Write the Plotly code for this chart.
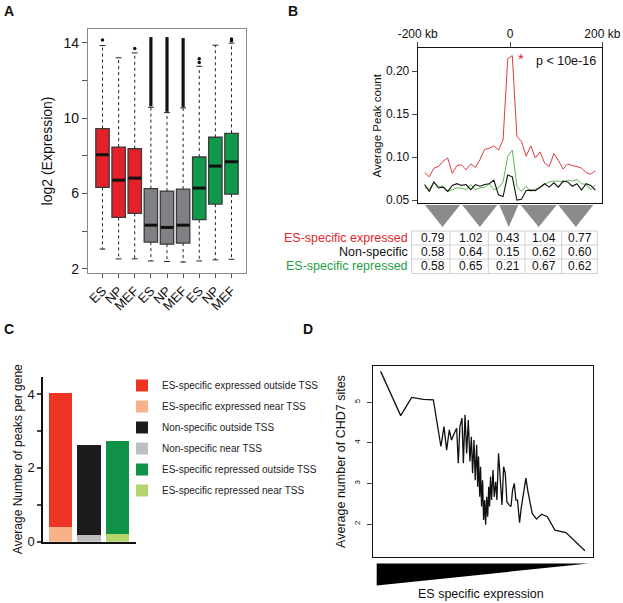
import plotly.graph_objects as go

W, H = 623, 603
FONT = "Liberation Sans, Arial, sans-serif"


def px(x):
    return x / W


def py(y):
    return 1 - y / H


# ---------------- Panel A: boxplots ----------------
a_pos = [1, 2, 3, 4, 5, 6, 7, 8, 9]
a_labels = ["ES", "NP", "MEF", "ES", "NP", "MEF", "ES", "NP", "MEF"]
a_q1 = [6.32, 4.72, 4.94, 3.41, 3.30, 3.36, 4.60, 5.43, 5.96]
a_med = [8.05, 6.70, 6.81, 4.31, 4.19, 4.31, 6.28, 7.45, 7.68]
a_q3 = [9.44, 8.46, 8.37, 6.25, 6.12, 6.23, 7.93, 8.98, 9.19]
a_lo = [3.04, 2.52, 2.52, 2.41, 2.38, 2.35, 2.41, 2.47, 2.50]
a_hi = [13.85, 13.20, 13.46, 10.57, 10.29, 10.54, 12.75, 13.87, 13.98]
a_group = ["exp", "exp", "exp", "non", "non", "non", "rep", "rep", "rep"]
a_out_x = [1, 3, 7, 7, 9, 9]
a_out_y = [14.15, 13.70, 12.95, 13.15, 14.10, 14.20]
a_dense_x = [4, 5, 6]
a_dense_lo = [10.62, 10.33, 10.58]
a_dense_hi = [14.30, 14.30, 14.25]
a_yticks = [2, 4, 6, 8, 10, 12, 14]
a_yticktext = ["2", "", "6", "", "10", "", "14"]

# ---------------- Panel B: peak profile ----------------
b_kb = [-185, -175, -165, -155, -145, -135, -125, -115, -105, -95, -85, -75, -65,
        -55, -45, -35, -25, -15, -5, 5, 15, 25, 35, 45, 55, 65, 75, 85, 95, 105,
        115, 125, 135, 145, 155, 165, 175, 185]
b_expressed = [0.082, 0.077, 0.087, 0.089, 0.095, 0.099, 0.081, 0.090, 0.091, 0.085,
               0.092, 0.088, 0.097, 0.109, 0.110, 0.113, 0.108, 0.120, 0.214, 0.218,
               0.124, 0.118, 0.101, 0.113, 0.099, 0.106, 0.093, 0.089, 0.104, 0.096,
               0.086, 0.092, 0.090, 0.089, 0.087, 0.082, 0.080, 0.084]
b_nonspecific = [0.068, 0.060, 0.071, 0.064, 0.065, 0.060, 0.067, 0.069, 0.067, 0.068,
                 0.062, 0.068, 0.066, 0.068, 0.069, 0.073, 0.056, 0.054, 0.079, 0.077,
                 0.050, 0.051, 0.061, 0.0615, 0.061, 0.065, 0.069, 0.065, 0.070, 0.065,
                 0.072, 0.071, 0.066, 0.069, 0.0615, 0.069, 0.067, 0.0615]
b_repressed = [0.065, 0.062, 0.071, 0.066, 0.066, 0.060, 0.062, 0.064, 0.064, 0.062,
               0.068, 0.062, 0.064, 0.065, 0.069, 0.062, 0.064, 0.071, 0.101, 0.108,
               0.066, 0.060, 0.066, 0.060, 0.063, 0.064, 0.068, 0.071, 0.072, 0.072,
               0.071, 0.073, 0.072, 0.074, 0.069, 0.068, 0.062, 0.068]
b_xticks = [-200, 0, 200]
b_xticktext = ["-200 kb", "0", "200 kb"]
b_yticks = [0.05, 0.10, 0.15, 0.20]
b_yticktext = ["0.05", "0.10", "0.15", "0.20"]
b_row_labels = ["ES-specific expressed", "Non-specific", "ES-specific repressed"]
b_table = [
    ["0.79", "1.02", "0.43", "1.04", "0.77"],
    ["0.58", "0.64", "0.15", "0.62", "0.60"],
    ["0.58", "0.65", "0.21", "0.67", "0.62"],
]
b_pval = "p < 10e-16"

# ---------------- Panel C: stacked bars ----------------
c_pos = [1, 2, 3]
c_near = [0.40, 0.175, 0.20]
c_outside = [3.62, 2.455, 2.52]
c_names_out = ["ES-specific expressed outside TSS", "Non-specific outside TSS",
               "ES-specific repressed outside TSS"]
c_names_near = ["ES-specific expressed near TSS", "Non-specific near TSS",
                "ES-specific repressed near TSS"]
c_yticks = [0, 1, 2, 3, 4]
c_yticktext = ["0", "", "2", "", "4"]

# ---------------- Panel D: CHD7 sites vs ES specific expression ----------------
d_rank = [0.0, 9.8, 15.2, 20.9, 25.8, 29.5, 31.0, 32.3, 33.6, 34.7, 36.1, 37.2, 38.0,
          38.8, 39.8, 40.5, 41.3, 42.1, 42.9, 43.7, 44.4, 45.0, 45.7, 46.3, 47.0,
          47.5, 47.9, 48.5, 48.9, 49.4, 49.9, 50.4, 50.9, 51.4, 51.9, 52.4, 52.9,
          53.3, 53.8, 54.3, 55.0, 55.6, 56.3, 56.9, 57.7, 58.6, 59.4, 60.2, 61.0,
          61.8, 62.8, 63.8, 64.6, 65.4, 66.2, 67.0, 68.0, 68.8, 69.9, 71.1, 72.1,
          73.1, 74.2, 76.3, 78.8, 81.6, 85.3, 90.7, 100.0]
d_sites = [5.76, 4.67, 5.12, 5.07, 5.06, 3.91, 4.40, 3.82, 4.32, 4.07, 4.24, 4.36, 3.50,
           4.40, 4.61, 3.50, 4.69, 3.74, 4.56, 3.54, 4.15, 3.25, 4.07, 3.08, 3.95,
           2.92, 3.66, 2.67, 3.41, 2.43, 3.08, 2.10, 2.59, 1.98, 2.67, 2.18, 2.92,
           2.43, 3.17, 2.59, 3.33, 2.67, 3.04, 2.59, 3.74, 2.92, 2.47, 3.41, 3.25,
           2.55, 2.47, 2.43, 2.84, 3.00, 2.59, 2.59, 2.03, 2.39, 2.76, 3.13, 2.80,
           2.51, 2.26, 2.12, 2.24, 2.18, 1.85, 1.79, 1.34]
d_yticks = [2, 3, 4, 5]

# ---------------- colours ----------------
RED = "#E5202A"
GREY = "#808184"
GREEN = "#0E9A4A"
box_fill = {"exp": RED, "non": GREY, "rep": GREEN}

fig = go.Figure()

# Panel A whiskers (dashed) and caps
BOXW = 0.83
CAPW = 0.36
wx, wy, cx, cy = [], [], [], []
for p, q1, q3, lo, hi in zip(a_pos, a_q1, a_q3, a_lo, a_hi):
    wx += [p, p, None, p, p, None]
    wy += [q3, hi, None, q1, lo, None]
    cx += [p - CAPW / 2, p + CAPW / 2, None, p - CAPW / 2, p + CAPW / 2, None]
    cy += [hi, hi, None, lo, lo, None]
fig.add_trace(go.Scatter(x=wx, y=wy, mode="lines", line=dict(color="#222", width=1, dash="3px,3px"),
                         xaxis="x", yaxis="y", showlegend=False, hoverinfo="skip"))
fig.add_trace(go.Scatter(x=cx, y=cy, mode="lines", line=dict(color="#222", width=1),
                         xaxis="x", yaxis="y", showlegend=False, hoverinfo="skip"))
# dense outliers in the non-specific group
dx, dy = [], []
for p, lo, hi in zip(a_dense_x, a_dense_lo, a_dense_hi):
    dx += [p, p, None]
    dy += [lo, hi, None]
fig.add_trace(go.Scatter(x=dx, y=dy, mode="lines", line=dict(color="#111", width=3.2),
                         xaxis="x", yaxis="y", showlegend=False, hoverinfo="skip"))
fig.add_trace(go.Scatter(x=a_out_x, y=a_out_y, mode="markers",
                         marker=dict(color="#111", size=3.5),
                         xaxis="x", yaxis="y", showlegend=False, hoverinfo="skip"))
# boxes
for p, q1, m, q3, g in zip(a_pos, a_q1, a_med, a_q3, a_group):
    fig.add_trace(go.Box(x=[p], q1=[q1], median=[m], q3=[q3], lowerfence=[q1], upperfence=[q3],
                         width=BOXW, fillcolor=box_fill[g], line=dict(color="#3a3a3a", width=1.3),
                         xaxis="x", yaxis="y", showlegend=False, hoverinfo="skip"))
# thick medians
mx, my = [], []
for p, m in zip(a_pos, a_med):
    mx += [p - BOXW / 2 + 0.02, p + BOXW / 2 - 0.02, None]
    my += [m, m, None]
fig.add_trace(go.Scatter(x=mx, y=my, mode="lines", line=dict(color="#111", width=3),
                         xaxis="x", yaxis="y", showlegend=False, hoverinfo="skip"))

# Panel B lines
fig.add_trace(go.Scatter(x=b_kb, y=b_expressed, mode="lines", line=dict(color="#DD3B3F", width=1),
                         xaxis="x2", yaxis="y2", showlegend=False, hoverinfo="skip"))
fig.add_trace(go.Scatter(x=b_kb, y=b_repressed, mode="lines", line=dict(color="#62B550", width=1),
                         xaxis="x2", yaxis="y2", showlegend=False, hoverinfo="skip"))
fig.add_trace(go.Scatter(x=b_kb, y=b_nonspecific, mode="lines", line=dict(color="#111", width=1.1),
                         xaxis="x2", yaxis="y2", showlegend=False, hoverinfo="skip"))

# Panel C stacked bars
near_cols = ["#F8B28A", "#BCBEC0", "#B4D56B"]
out_cols = ["#EE3524", "#1E1B1C", "#0D9247"]
for i, p in enumerate(c_pos):
    fig.add_trace(go.Bar(x=[p], y=[c_near[i]], name=c_names_near[i], marker_color=near_cols[i],
                         marker_line_width=0, width=0.82, xaxis="x3", yaxis="y3",
                         legendgroup="n%d" % i, legendrank=2 * i + 2, hoverinfo="skip"))
    fig.add_trace(go.Bar(x=[p], y=[c_outside[i]], name=c_names_out[i], marker_color=out_cols[i],
                         marker_line_width=0, width=0.82, xaxis="x3", yaxis="y3",
                         legendgroup="o%d" % i, legendrank=2 * i + 1, hoverinfo="skip"))

# Panel D line
fig.add_trace(go.Scatter(x=d_rank, y=d_sites, mode="lines", line=dict(color="#111", width=1.3),
                         xaxis="x4", yaxis="y4", showlegend=False, hoverinfo="skip"))

# ---------------- shapes ----------------
shapes = []
# Panel B triangles
tri_spans = [(425.0, 460.0), (462.3, 497.3), (499.3, 518.3), (520.7, 556.7), (558.3, 593.3)]
for l, r in tri_spans:
    m = (l + r) / 2
    path = "M %f %f L %f %f L %f %f Z" % (px(l), py(205), px(r), py(205), px(m), py(227))
    shapes.append(dict(type="path", xref="paper", yref="paper", path=path,
                       fillcolor="#8B8B8E", line=dict(width=0), layer="above"))
# Panel B table grid
col_edges = [411.7, 450.0, 488.3, 525.0, 561.7, 597.3]
row_edges = [231.0, 245.0, 259.0, 273.5]
for xe in col_edges:
    shapes.append(dict(type="line", xref="paper", yref="paper", x0=px(xe), x1=px(xe),
                       y0=py(row_edges[0]), y1=py(row_edges[-1]), line=dict(color="#D0D0D0", width=1)))
for ye in row_edges:
    shapes.append(dict(type="line", xref="paper", yref="paper", x0=px(col_edges[0]), x1=px(col_edges[-1]),
                       y0=py(ye), y1=py(ye), line=dict(color="#D0D0D0", width=1)))
# Panel D wedge
shapes.append(dict(type="path", xref="paper", yref="paper",
                   path="M %f %f L %f %f L %f %f Z" % (px(376.7), py(563.5), px(588.5), py(563.5), px(376.7), py(585.5)),
                   fillcolor="#000", line=dict(width=0)))

# ---------------- annotations ----------------
ann = []
for t, x, y in [("A", 8.5, 11.5), ("B", 293, 11.5), ("C", 8.5, 328.5), ("D", 308, 328.5)]:
    ann.append(dict(text="<b>%s</b>" % t, x=px(x), y=py(y), xref="paper", yref="paper",
                    showarrow=False, font=dict(size=14, color="#111"), xanchor="center", yanchor="middle"))
row_y = [238.0, 252.0, 266.3]
row_cols = ["#E0262B", "#111", "#1E9E48"]
for lab, yy, col in zip(b_row_labels, row_y, row_cols):
    ann.append(dict(text=lab, x=px(410), y=py(yy), xref="paper", yref="paper", showarrow=False,
                    font=dict(size=12.5, color=col), xanchor="right", yanchor="middle"))
for r, vals in enumerate(b_table):
    for c, v in enumerate(vals):
        ann.append(dict(text=v, x=px(col_edges[c + 1] - 3.5), y=py(row_y[r]), xref="paper", yref="paper",
                        showarrow=False, font=dict(size=12, color="#111"), xanchor="right", yanchor="middle"))
ann.append(dict(text=b_pval, x=190, y=0.2115, xref="x2", yref="y2", showarrow=False,
                font=dict(size=12.5, color="#111"), xanchor="right", yanchor="middle"))
ann.append(dict(text="*", x=23, y=0.2145, xref="x2", yref="y2", showarrow=False,
                font=dict(size=15, color="#E0262B"), xanchor="center", yanchor="middle"))
ann.append(dict(text="ES specific expression", x=px(481), y=py(593.5), xref="paper", yref="paper",
                showarrow=False, font=dict(size=12.5, color="#111"), xanchor="center", yanchor="middle"))

fig.update_layout(
    width=W, height=H, margin=dict(l=0, r=0, t=0, b=0),
    paper_bgcolor="white", plot_bgcolor="white",
    font=dict(family=FONT, color="#111"),
    barmode="stack", boxmode="overlay",
    shapes=shapes, annotations=ann,
    showlegend=True,
    legend=dict(x=px(122), y=py(371), xanchor="left", yanchor="top", bgcolor="rgba(0,0,0,0)",
                font=dict(size=10, color="#222"), traceorder="grouped", tracegroupgap=2),
    xaxis=dict(domain=[px(88), px(246)], range=[0.1, 9.9], tickvals=a_pos, ticktext=a_labels,
               tickangle=-45, ticks="outside", ticklen=4, tickcolor="#555", tickfont=dict(size=13),
               showline=True, mirror=True, linecolor="#8a8a8a", linewidth=1.2, showgrid=False,
               zeroline=False, anchor="y", automargin=False),
    yaxis=dict(domain=[py(273), py(29)], range=[1.77, 14.73], tickvals=a_yticks, ticktext=a_yticktext,
               ticks="outside", ticklen=5, tickcolor="#555", tickfont=dict(size=14),
               showline=True, mirror=True, linecolor="#8a8a8a", linewidth=1.2, showgrid=False,
               zeroline=False, anchor="x", automargin=False,
               title=dict(text="log2 (Expression)", font=dict(size=14), standoff=7)),
    xaxis2=dict(domain=[px(417.7), px(602.3)], range=[-200, 200], side="top", tickvals=b_xticks,
                ticktext=b_xticktext, ticks="outside", ticklen=5, tickfont=dict(size=12),
                showline=True, mirror=True, linecolor="#111", linewidth=1, showgrid=False,
                zeroline=False, anchor="y2", automargin=False),
    yaxis2=dict(domain=[py(203.3), py(48.3)], range=[0.0462, 0.2264], tickvals=b_yticks,
                ticktext=b_yticktext, ticks="outside", ticklen=5, tickfont=dict(size=12),
                showline=True, mirror=True, linecolor="#111", linewidth=1, showgrid=False,
                zeroline=False, anchor="x2", automargin=False,
                title=dict(text="Average Peak count", font=dict(size=11.5), standoff=1)),
    xaxis3=dict(domain=[px(43.3), px(136)], range=[0.38, 3.67], showticklabels=False, ticks="",
                showline=True, linecolor="#111", linewidth=2, showgrid=False, zeroline=False,
                anchor="y3", automargin=False),
    yaxis3=dict(domain=[py(541.7), py(376.7)], range=[0, 4.47], tickvals=c_yticks, ticktext=c_yticktext,
                ticks="outside", ticklen=4, tickwidth=1.5, tickfont=dict(size=13),
                showline=True, linecolor="#111", linewidth=2, showgrid=False, zeroline=False,
                anchor="x3", automargin=False,
                title=dict(text="Average Number of peaks per gene", font=dict(size=12), standoff=2)),
    xaxis4=dict(domain=[px(373.3), px(592.7)], range=[-3.6, 103.8], showticklabels=False, ticks="",
                showline=True, mirror=True, linecolor="#111", linewidth=1, showgrid=False,
                zeroline=False, anchor="y4", automargin=False),
    yaxis4=dict(domain=[py(557.3), py(365.7)], range=[1.18, 5.9], tickvals=d_yticks, tickangle=-90,
                ticks="outside", ticklen=5, ticklabelstandoff=4, tickfont=dict(size=8),
                showline=True, mirror=True, linecolor="#111", linewidth=1, showgrid=False,
                zeroline=False, anchor="x4", automargin=False,
                title=dict(text="Average number of CHD7 sites", font=dict(size=12.5), standoff=4)),
)

fig.write_html("out.html", config={"displayModeBar": False},
               post_script="document.body.style.margin='0px';")
